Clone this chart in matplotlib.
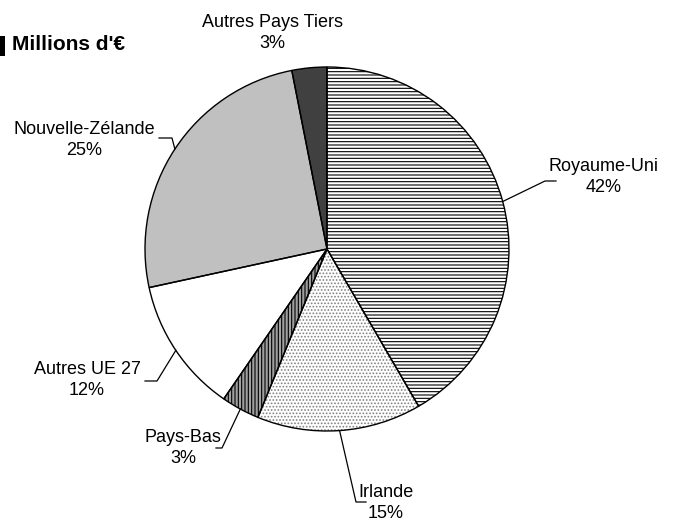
import numpy as np
import matplotlib
matplotlib.use("Agg")
import matplotlib.pyplot as plt
from matplotlib.patches import Rectangle

plt.rcParams["font.family"] = ["Liberation Sans", "DejaVu Sans"]
plt.rcParams["hatch.linewidth"] = 0.8

# data, clockwise from 12 o'clock (shares in %)
countries = ["Royaume-Uni", "Irlande", "Pays-Bas", "Autres UE 27",
             "Nouvelle-Zélande", "Autres Pays Tiers"]
shares = [41.6, 14.6, 3.4, 12.0, 25.3, 3.1]
title = "Millions d'€"

faces = ["white", "white", "#a0a0a0", "white", "#c0c0c0", "#404040"]
hatches = ["-----", ".....", "|||||", None, None, None]
hatch_cols = ["black", "#808080", "black", None, None, None]

# layout in pixels (top-left origin)
W, H = 677, 521
cx, cy, R = 327, 249, 182
label_pos = [(604, 177), (386, 503), (183, 448), (87, 380), (84, 140), (272, 33)]
leaders = [[(545, 181), (556, 181)],
           [(356, 502), (366, 502)],
           [(222, 448), (216, 448)],
           [(157, 381), (145, 381)],
           [(172, 138), (159, 138)],
           None]


def fy(py):
    return H - py


fig = plt.figure(figsize=(W / 100, H / 100), dpi=100)
ax = fig.add_axes([0, 0, 1, 1])

wedges, _ = ax.pie(shares, startangle=90, counterclock=False,
                   center=(cx, fy(cy)), radius=R, colors=faces,
                   wedgeprops=dict(linewidth=0))
for w, h, hc in zip(wedges, hatches, hatch_cols):
    if h:
        w.set_hatch(h)
        w.set_edgecolor(hc)
# outlines
ax.pie(shares, startangle=90, counterclock=False, center=(cx, fy(cy)),
       radius=R, wedgeprops=dict(fill=False, edgecolor="black", linewidth=1.0))

for w, name, val, pos, lead in zip(wedges, countries, shares, label_pos, leaders):
    ax.text(pos[0], fy(pos[1]), "%s\n%.0f%%" % (name, val), ha="center",
            va="center", fontsize=13, linespacing=1.35)
    if lead:
        mid = np.deg2rad((w.theta1 + w.theta2) / 2)
        xs = [cx + R * np.cos(mid)] + [p[0] for p in lead]
        ys = [fy(cy) + R * np.sin(mid)] + [fy(p[1]) for p in lead]
        ax.plot(xs, ys, color="black", linewidth=0.9)

ax.add_patch(Rectangle((0, fy(56)), 5, 20, facecolor="black", edgecolor="none"))
ax.text(12, fy(45), title, ha="left", va="center", fontsize=15, fontweight="bold")

ax.set_xlim(0, W)
ax.set_ylim(0, H)
ax.set_aspect("auto")
ax.axis("off")
fig.savefig("out.png", dpi=100)
